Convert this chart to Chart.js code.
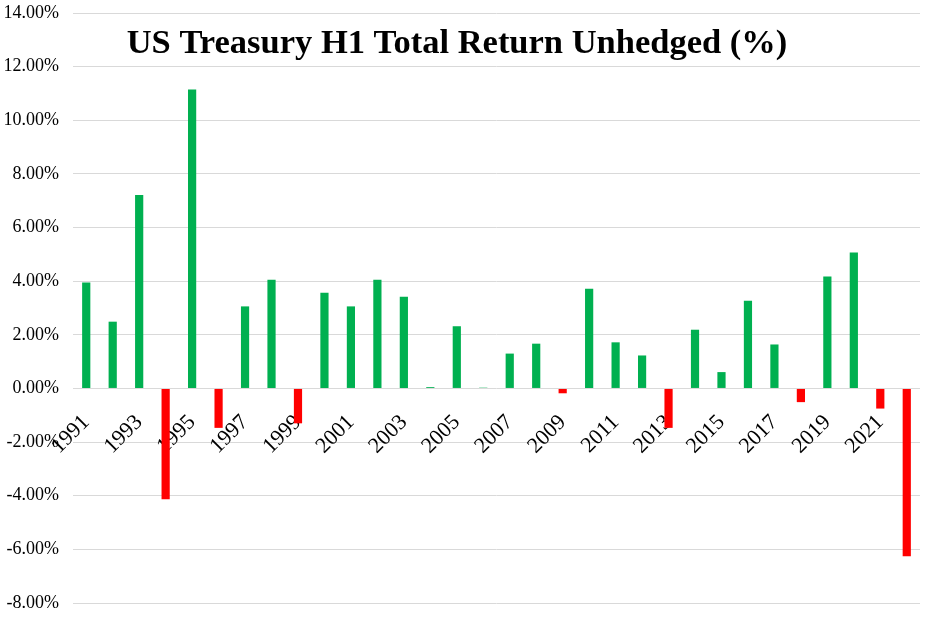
<!DOCTYPE html>
<html>
<head>
<meta charset="utf-8">
<script src="https://cdn.jsdelivr.net/npm/chart.js@4.4.1/dist/chart.umd.min.js"></script>
<style>
  html, body { margin: 0; padding: 0; background: #fff; }
  #wrap { width: 938px; height: 617px; }
</style>
</head>
<body>
<div id="wrap"><canvas id="chart"></canvas></div>
<script>
// H1 total return by year, in percent
const years = ['1991','1992','1993','1994','1995','1996','1997','1998','1999','2000',
  '2001','2002','2003','2004','2005','2006','2007','2008','2009','2010',
  '2011','2012','2013','2014','2015','2016','2017','2018','2019','2020',
  '2021','2022'];
const returns = [3.95, 2.49, 7.21, -4.13, 11.15, -1.47, 3.06, 4.05, -1.30, 3.57,
  3.06, 4.05, 3.42, 0.05, 2.32, 0.03, 1.30, 1.67, -0.18, 3.72,
  1.72, 1.23, -1.47, 2.19, 0.61, 3.27, 1.64, -0.51, 4.17, 5.07,
  -0.75, -6.26];
const yTicks = [-8, -6, -4, -2, 0, 2, 4, 6, 8, 10, 12, 14];
const chartTitle = 'US Treasury H1 Total Return Unhedged (%)';

const serif = '"Liberation Serif", "DejaVu Serif", serif';

const titlePlugin = {
  id: 'bigTitle',
  afterDraw(chart) {
    const ctx = chart.ctx;
    ctx.save();
    ctx.font = 'bold 34.5px ' + serif;
    ctx.fillStyle = '#000';
    ctx.textAlign = 'center';
    ctx.textBaseline = 'alphabetic';
    ctx.fillText(chartTitle, 457, 53);
    ctx.restore();
  }
};

// keep the axes from pushing the plot area inward
function noPad(scale) {
  scale.paddingTop = 0;
  scale.paddingBottom = 0;
  scale.paddingLeft = 0;
  scale.paddingRight = 0;
}

new Chart(document.getElementById('chart'), {
  type: 'bar',
  data: {
    labels: years,
    datasets: [{
      data: returns,
      backgroundColor: returns.map(v => v < 0 ? '#ff0000' : '#00b050'),
      barPercentage: 0.31,
      categoryPercentage: 1.0
    }]
  },
  options: {
    responsive: true,
    maintainAspectRatio: false,
    animation: false,
    layout: { padding: { top: 13, right: 18, bottom: 14, left: 0 } },
    plugins: {
      legend: { display: false },
      tooltip: { enabled: false }
    },
    scales: {
      x: {
        position: { y: 0 },
        afterFit: noPad,
        grid: { display: false, drawTicks: false },
        border: { display: false },
        ticks: {
          autoSkip: false,
          minRotation: 45,
          maxRotation: 45,
          padding: 21,
          color: '#000',
          font: { family: serif, size: 22 },
          callback: function (val, i) { return i % 2 === 0 ? years[i] : ''; }
        }
      },
      y: {
        min: -8,
        max: 14,
        afterFit(scale) { noPad(scale); scale.width = 73; },
        afterBuildTicks(scale) { scale.ticks = yTicks.map(v => ({ value: v })); },
        grid: { color: '#d9d9d9', lineWidth: 1, drawTicks: false },
        border: { display: false },
        ticks: {
          padding: 14,
          color: '#000',
          font: { family: serif, size: 18 },
          callback: v => v.toFixed(2) + '%'
        }
      }
    }
  },
  plugins: [titlePlugin]
});
</script>
</body>
</html>
